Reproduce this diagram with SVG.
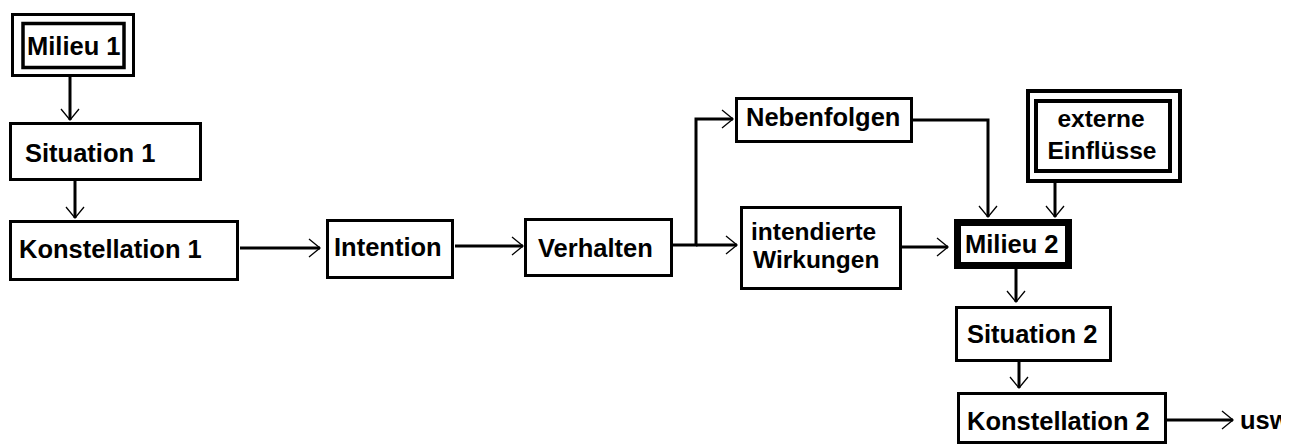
<svg xmlns="http://www.w3.org/2000/svg" width="1297" height="445" viewBox="0 0 1297 445">
  <style>
    .box { fill: #fff; stroke: #000; stroke-width: 3; }
    .frame { fill: none; stroke: #000; stroke-width: 4; }
    .heavy { fill: #fff; stroke: #000; stroke-width: 7; }
    .lbl { font-family: "Liberation Sans", Arial, sans-serif; font-weight: bold; font-size: 25.5px; fill: #000; }
    .two { font-size: 24.5px; }
    .mid { text-anchor: middle; }
    .conn { fill: none; stroke: #000; stroke-width: 3; marker-end: url(#arrow); }
  </style>
  <defs>
    <marker id="arrow" markerUnits="userSpaceOnUse" orient="auto" overflow="visible" refX="0" refY="0" markerWidth="1" markerHeight="1">
      <path d="M-11,-9 L0,0 L-11,9" fill="none" stroke="#000" stroke-width="1.3"/>
    </marker>
    <clipPath id="edge">
      <rect x="0" y="0" width="1281" height="445"/>
    </clipPath>
  </defs>
  <rect width="1297" height="445" fill="#fff"/>

  <!-- connectors -->
  <g id="connectors">
    <path class="conn" d="M70,77 V120"/>
    <path class="conn" d="M75,181 V218"/>
    <path class="conn" d="M240,248 H320"/>
    <path class="conn" d="M455,246 H523"/>
    <path class="conn" d="M673,245 H696 V119 H733"/>
    <path class="conn" d="M696,245 H737"/>
    <path class="conn" d="M913,120 H988 V217"/>
    <path class="conn" d="M1055,183 V217"/>
    <path class="conn" d="M902,247 H948"/>
    <path class="conn" d="M1016,269 V302"/>
    <path class="conn" d="M1019,362 V388"/>
    <path class="conn" d="M1167,420 H1233"/>
  </g>

  <g id="milieu1">
    <rect class="box" x="12.5" y="14.5" width="121" height="61"/>
    <rect class="box" x="23" y="23.5" width="101" height="44" style="stroke-width:3.5"/>
    <text class="lbl" x="27" y="55">Milieu 1</text>
  </g>

  <g id="situation1">
    <rect class="box" x="10.5" y="123.5" width="190" height="56"/>
    <text class="lbl" x="25" y="162">Situation 1</text>
  </g>

  <g id="konstellation1">
    <rect class="box" x="10.5" y="221.5" width="227" height="58"/>
    <text class="lbl" x="19" y="258">Konstellation 1</text>
  </g>

  <g id="intention">
    <rect class="box" x="327.5" y="220.5" width="125" height="57"/>
    <text class="lbl" x="334" y="256">Intention</text>
  </g>

  <g id="verhalten">
    <rect class="box" x="525.5" y="219.5" width="146" height="56"/>
    <text class="lbl" x="538" y="257">Verhalten</text>
  </g>

  <g id="nebenfolgen">
    <rect class="box" x="736.5" y="98.5" width="175" height="43"/>
    <text class="lbl" x="746" y="126">Nebenfolgen</text>
  </g>

  <g id="intendierte-wirkungen">
    <rect class="box" x="741.5" y="207.5" width="159" height="81"/>
    <text class="lbl two" x="751" y="240">intendierte</text>
    <text class="lbl two" x="753" y="268">Wirkungen</text>
  </g>

  <g id="externe-einfluesse">
    <rect class="frame" x="1028" y="91" width="152" height="90" style="fill:#fff"/>
    <rect class="frame" x="1036" y="101" width="134" height="70"/>
    <text class="lbl two mid" x="1101" y="127">externe</text>
    <text class="lbl two mid" x="1102" y="159">Einflüsse</text>
  </g>

  <g id="milieu2">
    <rect class="heavy" x="957.5" y="222.5" width="111" height="43"/>
    <text class="lbl" x="965" y="253">Milieu 2</text>
  </g>

  <g id="situation2">
    <rect class="box" x="956.5" y="307.5" width="154" height="53"/>
    <text class="lbl" x="967" y="343">Situation 2</text>
  </g>

  <g id="konstellation2">
    <rect class="box" x="958.5" y="393.5" width="207" height="49"/>
    <text class="lbl" x="967" y="430">Konstellation 2</text>
  </g>

  <g id="usw" clip-path="url(#edge)">
    <text class="lbl" x="1240" y="429">usw</text>
  </g>
</svg>
